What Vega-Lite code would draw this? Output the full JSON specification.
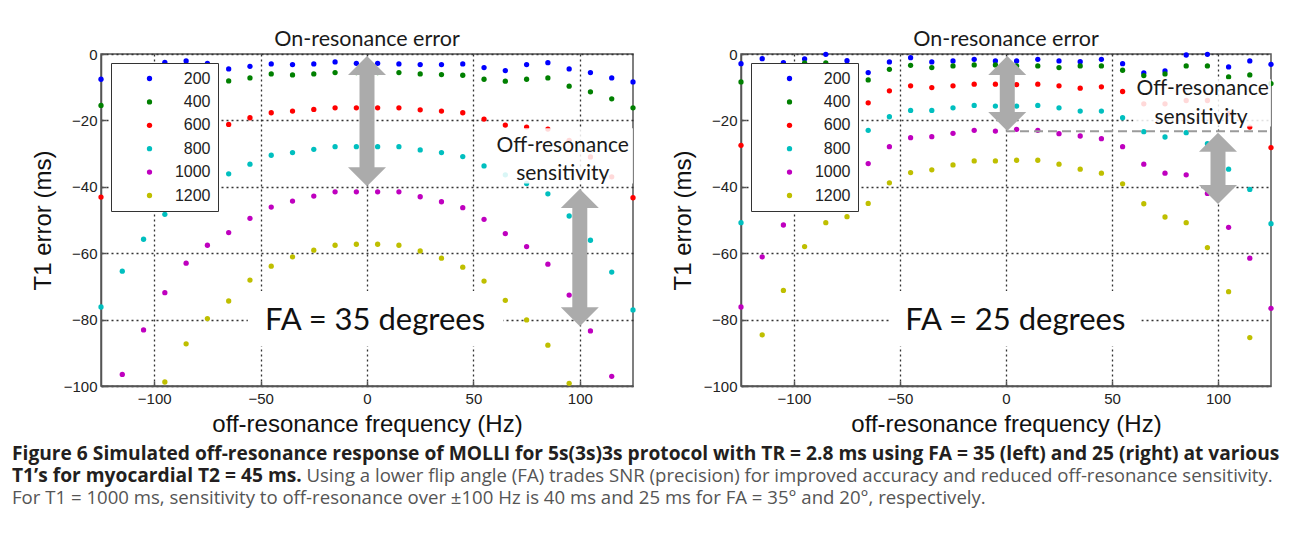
{
  "$schema": "https://vega.github.io/schema/vega-lite/v6.json",
  "background": "white",
  "padding": {"left": 12, "top": 27, "right": 5, "bottom": 5},
  "datasets": {
    "pts": [
      {"p":"L","t":200,"f":-125,"e":-7.6},{"p":"L","t":200,"f":-115,"e":-5.0},{"p":"L","t":200,"f":-105,"e":-3.5},{"p":"L","t":200,"f":-95,"e":-2.5},{"p":"L","t":200,"f":-85,"e":-2.1},{"p":"L","t":200,"f":-75,"e":-2.8},{"p":"L","t":200,"f":-65,"e":-4.5},{"p":"L","t":200,"f":-55,"e":-3.7},{"p":"L","t":200,"f":-45,"e":-3.0},{"p":"L","t":200,"f":-35,"e":-3.2},{"p":"L","t":200,"f":-25,"e":-3.0},{"p":"L","t":200,"f":-15,"e":-2.4},{"p":"L","t":200,"f":-5,"e":-2.8},{"p":"L","t":200,"f":5,"e":-2.8},{"p":"L","t":200,"f":15,"e":-3.0},{"p":"L","t":200,"f":25,"e":-3.2},{"p":"L","t":200,"f":35,"e":-3.2},{"p":"L","t":200,"f":45,"e":-3.0},{"p":"L","t":200,"f":55,"e":-4.1},{"p":"L","t":200,"f":65,"e":-5.0},{"p":"L","t":200,"f":75,"e":-3.2},{"p":"L","t":200,"f":85,"e":-2.6},{"p":"L","t":200,"f":95,"e":-4.5},{"p":"L","t":200,"f":105,"e":-5.6},{"p":"L","t":200,"f":115,"e":-7.2},{"p":"L","t":200,"f":125,"e":-8.4},
      {"p":"L","t":400,"f":-125,"e":-15.5},{"p":"L","t":400,"f":-115,"e":-12.0},{"p":"L","t":400,"f":-105,"e":-9.5},{"p":"L","t":400,"f":-95,"e":-8.0},{"p":"L","t":400,"f":-85,"e":-7.5},{"p":"L","t":400,"f":-75,"e":-8.5},{"p":"L","t":400,"f":-65,"e":-8.1},{"p":"L","t":400,"f":-55,"e":-7.2},{"p":"L","t":400,"f":-45,"e":-6.0},{"p":"L","t":400,"f":-35,"e":-6.3},{"p":"L","t":400,"f":-25,"e":-6.0},{"p":"L","t":400,"f":-15,"e":-5.6},{"p":"L","t":400,"f":-5,"e":-5.6},{"p":"L","t":400,"f":5,"e":-5.6},{"p":"L","t":400,"f":15,"e":-5.6},{"p":"L","t":400,"f":25,"e":-6.0},{"p":"L","t":400,"f":35,"e":-6.2},{"p":"L","t":400,"f":45,"e":-6.4},{"p":"L","t":400,"f":55,"e":-7.6},{"p":"L","t":400,"f":65,"e":-8.2},{"p":"L","t":400,"f":75,"e":-7.6},{"p":"L","t":400,"f":85,"e":-7.2},{"p":"L","t":400,"f":95,"e":-9.7},{"p":"L","t":400,"f":105,"e":-11.4},{"p":"L","t":400,"f":115,"e":-13.5},{"p":"L","t":400,"f":125,"e":-16.2},
      {"p":"L","t":600,"f":-125,"e":-43.1},{"p":"L","t":600,"f":-115,"e":-37.0},{"p":"L","t":600,"f":-105,"e":-31.0},{"p":"L","t":600,"f":-95,"e":-26.0},{"p":"L","t":600,"f":-85,"e":-23.0},{"p":"L","t":600,"f":-75,"e":-22.0},{"p":"L","t":600,"f":-65,"e":-21.2},{"p":"L","t":600,"f":-55,"e":-19.2},{"p":"L","t":600,"f":-45,"e":-17.7},{"p":"L","t":600,"f":-35,"e":-17.2},{"p":"L","t":600,"f":-25,"e":-16.7},{"p":"L","t":600,"f":-15,"e":-16.2},{"p":"L","t":600,"f":-5,"e":-16.2},{"p":"L","t":600,"f":5,"e":-16.2},{"p":"L","t":600,"f":15,"e":-16.2},{"p":"L","t":600,"f":25,"e":-16.8},{"p":"L","t":600,"f":35,"e":-17.2},{"p":"L","t":600,"f":45,"e":-17.7},{"p":"L","t":600,"f":55,"e":-19.6},{"p":"L","t":600,"f":65,"e":-21.4},{"p":"L","t":600,"f":75,"e":-22.0},{"p":"L","t":600,"f":85,"e":-22.6},{"p":"L","t":600,"f":95,"e":-26.0},{"p":"L","t":600,"f":105,"e":-31.0},{"p":"L","t":600,"f":115,"e":-37.0},{"p":"L","t":600,"f":125,"e":-43.3},
      {"p":"L","t":800,"f":-125,"e":-76.2},{"p":"L","t":800,"f":-115,"e":-65.4},{"p":"L","t":800,"f":-105,"e":-55.8},{"p":"L","t":800,"f":-95,"e":-48.3},{"p":"L","t":800,"f":-85,"e":-42.0},{"p":"L","t":800,"f":-75,"e":-39.0},{"p":"L","t":800,"f":-65,"e":-36.1},{"p":"L","t":800,"f":-55,"e":-33.2},{"p":"L","t":800,"f":-45,"e":-30.5},{"p":"L","t":800,"f":-35,"e":-29.7},{"p":"L","t":800,"f":-25,"e":-28.7},{"p":"L","t":800,"f":-15,"e":-27.9},{"p":"L","t":800,"f":-5,"e":-27.9},{"p":"L","t":800,"f":5,"e":-27.9},{"p":"L","t":800,"f":15,"e":-27.9},{"p":"L","t":800,"f":25,"e":-28.9},{"p":"L","t":800,"f":35,"e":-29.7},{"p":"L","t":800,"f":45,"e":-30.9},{"p":"L","t":800,"f":55,"e":-33.7},{"p":"L","t":800,"f":65,"e":-36.4},{"p":"L","t":800,"f":75,"e":-39.0},{"p":"L","t":800,"f":85,"e":-42.1},{"p":"L","t":800,"f":95,"e":-48.8},{"p":"L","t":800,"f":105,"e":-56.1},{"p":"L","t":800,"f":115,"e":-65.7},{"p":"L","t":800,"f":125,"e":-77.1},
      {"p":"L","t":1000,"f":-115,"e":-96.5},{"p":"L","t":1000,"f":-105,"e":-83.1},{"p":"L","t":1000,"f":-95,"e":-71.9},{"p":"L","t":1000,"f":-85,"e":-63.0},{"p":"L","t":1000,"f":-75,"e":-57.6},{"p":"L","t":1000,"f":-65,"e":-53.8},{"p":"L","t":1000,"f":-55,"e":-49.5},{"p":"L","t":1000,"f":-45,"e":-46.1},{"p":"L","t":1000,"f":-35,"e":-44.3},{"p":"L","t":1000,"f":-25,"e":-42.8},{"p":"L","t":1000,"f":-15,"e":-41.5},{"p":"L","t":1000,"f":-5,"e":-41.5},{"p":"L","t":1000,"f":5,"e":-41.5},{"p":"L","t":1000,"f":15,"e":-41.5},{"p":"L","t":1000,"f":25,"e":-43.0},{"p":"L","t":1000,"f":35,"e":-44.5},{"p":"L","t":1000,"f":45,"e":-46.3},{"p":"L","t":1000,"f":55,"e":-49.8},{"p":"L","t":1000,"f":65,"e":-54.1},{"p":"L","t":1000,"f":75,"e":-58.0},{"p":"L","t":1000,"f":85,"e":-63.3},{"p":"L","t":1000,"f":95,"e":-72.6},{"p":"L","t":1000,"f":105,"e":-83.4},{"p":"L","t":1000,"f":115,"e":-97.1},
      {"p":"L","t":1200,"f":-95,"e":-98.8},{"p":"L","t":1200,"f":-85,"e":-87.3},{"p":"L","t":1200,"f":-75,"e":-79.7},{"p":"L","t":1200,"f":-65,"e":-74.4},{"p":"L","t":1200,"f":-55,"e":-68.1},{"p":"L","t":1200,"f":-45,"e":-63.9},{"p":"L","t":1200,"f":-35,"e":-61.1},{"p":"L","t":1200,"f":-25,"e":-59.1},{"p":"L","t":1200,"f":-15,"e":-57.6},{"p":"L","t":1200,"f":-5,"e":-57.3},{"p":"L","t":1200,"f":5,"e":-57.3},{"p":"L","t":1200,"f":15,"e":-57.6},{"p":"L","t":1200,"f":25,"e":-59.3},{"p":"L","t":1200,"f":35,"e":-61.5},{"p":"L","t":1200,"f":45,"e":-64.2},{"p":"L","t":1200,"f":55,"e":-68.4},{"p":"L","t":1200,"f":65,"e":-74.2},{"p":"L","t":1200,"f":75,"e":-80.1},{"p":"L","t":1200,"f":85,"e":-87.7},{"p":"L","t":1200,"f":95,"e":-99.2},
      {"p":"R","t":200,"f":-125,"e":-2.9},{"p":"R","t":200,"f":-115,"e":-1.4},{"p":"R","t":200,"f":-105,"e":-2.6},{"p":"R","t":200,"f":-95,"e":-1.5},{"p":"R","t":200,"f":-85,"e":-0.1},{"p":"R","t":200,"f":-75,"e":-2.0},{"p":"R","t":200,"f":-65,"e":-5.6},{"p":"R","t":200,"f":-55,"e":-2.4},{"p":"R","t":200,"f":-45,"e":-1.1},{"p":"R","t":200,"f":-35,"e":-2.4},{"p":"R","t":200,"f":-25,"e":-2.1},{"p":"R","t":200,"f":-15,"e":-1.6},{"p":"R","t":200,"f":-5,"e":-2.1},{"p":"R","t":200,"f":5,"e":-2.1},{"p":"R","t":200,"f":15,"e":-1.6},{"p":"R","t":200,"f":25,"e":-2.1},{"p":"R","t":200,"f":35,"e":-2.3},{"p":"R","t":200,"f":45,"e":-1.6},{"p":"R","t":200,"f":55,"e":-2.9},{"p":"R","t":200,"f":65,"e":-5.7},{"p":"R","t":200,"f":75,"e":-5.1},{"p":"R","t":200,"f":85,"e":-0.3},{"p":"R","t":200,"f":95,"e":-0.1},{"p":"R","t":200,"f":105,"e":-3.9},{"p":"R","t":200,"f":115,"e":-2.1},{"p":"R","t":200,"f":125,"e":-3.1},
      {"p":"R","t":400,"f":-125,"e":-8.4},{"p":"R","t":400,"f":-115,"e":-5.0},{"p":"R","t":400,"f":-105,"e":-3.5},{"p":"R","t":400,"f":-95,"e":-2.7},{"p":"R","t":400,"f":-85,"e":-2.7},{"p":"R","t":400,"f":-75,"e":-4.0},{"p":"R","t":400,"f":-65,"e":-7.8},{"p":"R","t":400,"f":-55,"e":-4.6},{"p":"R","t":400,"f":-45,"e":-3.4},{"p":"R","t":400,"f":-35,"e":-4.1},{"p":"R","t":400,"f":-25,"e":-3.6},{"p":"R","t":400,"f":-15,"e":-3.3},{"p":"R","t":400,"f":-5,"e":-3.3},{"p":"R","t":400,"f":5,"e":-3.6},{"p":"R","t":400,"f":15,"e":-3.6},{"p":"R","t":400,"f":25,"e":-4.1},{"p":"R","t":400,"f":35,"e":-3.6},{"p":"R","t":400,"f":45,"e":-3.6},{"p":"R","t":400,"f":55,"e":-4.9},{"p":"R","t":400,"f":65,"e":-6.5},{"p":"R","t":400,"f":75,"e":-6.0},{"p":"R","t":400,"f":85,"e":-3.6},{"p":"R","t":400,"f":95,"e":-3.6},{"p":"R","t":400,"f":105,"e":-6.9},{"p":"R","t":400,"f":115,"e":-6.3},{"p":"R","t":400,"f":125,"e":-8.9},
      {"p":"R","t":600,"f":-125,"e":-27.5},{"p":"R","t":600,"f":-115,"e":-22.0},{"p":"R","t":600,"f":-105,"e":-18.0},{"p":"R","t":600,"f":-95,"e":-16.0},{"p":"R","t":600,"f":-85,"e":-15.0},{"p":"R","t":600,"f":-75,"e":-15.0},{"p":"R","t":600,"f":-65,"e":-14.7},{"p":"R","t":600,"f":-55,"e":-11.1},{"p":"R","t":600,"f":-45,"e":-9.6},{"p":"R","t":600,"f":-35,"e":-10.1},{"p":"R","t":600,"f":-25,"e":-9.6},{"p":"R","t":600,"f":-15,"e":-9.1},{"p":"R","t":600,"f":-5,"e":-9.1},{"p":"R","t":600,"f":5,"e":-9.2},{"p":"R","t":600,"f":15,"e":-9.1},{"p":"R","t":600,"f":25,"e":-9.6},{"p":"R","t":600,"f":35,"e":-10.3},{"p":"R","t":600,"f":45,"e":-9.9},{"p":"R","t":600,"f":55,"e":-11.3},{"p":"R","t":600,"f":65,"e":-15.0},{"p":"R","t":600,"f":75,"e":-15.0},{"p":"R","t":600,"f":85,"e":-14.0},{"p":"R","t":600,"f":95,"e":-14.0},{"p":"R","t":600,"f":105,"e":-18.0},{"p":"R","t":600,"f":115,"e":-22.0},{"p":"R","t":600,"f":125,"e":-28.2},
      {"p":"R","t":800,"f":-125,"e":-50.8},{"p":"R","t":800,"f":-115,"e":-41.0},{"p":"R","t":800,"f":-105,"e":-35.0},{"p":"R","t":800,"f":-95,"e":-27.0},{"p":"R","t":800,"f":-85,"e":-24.0},{"p":"R","t":800,"f":-75,"e":-25.0},{"p":"R","t":800,"f":-65,"e":-23.0},{"p":"R","t":800,"f":-55,"e":-18.9},{"p":"R","t":800,"f":-45,"e":-17.0},{"p":"R","t":800,"f":-35,"e":-17.0},{"p":"R","t":800,"f":-25,"e":-16.2},{"p":"R","t":800,"f":-15,"e":-15.5},{"p":"R","t":800,"f":-5,"e":-15.7},{"p":"R","t":800,"f":5,"e":-15.7},{"p":"R","t":800,"f":15,"e":-15.5},{"p":"R","t":800,"f":25,"e":-16.2},{"p":"R","t":800,"f":35,"e":-17.2},{"p":"R","t":800,"f":45,"e":-17.2},{"p":"R","t":800,"f":55,"e":-19.2},{"p":"R","t":800,"f":65,"e":-23.4},{"p":"R","t":800,"f":75,"e":-25.0},{"p":"R","t":800,"f":85,"e":-23.7},{"p":"R","t":800,"f":95,"e":-27.0},{"p":"R","t":800,"f":105,"e":-34.7},{"p":"R","t":800,"f":115,"e":-40.8},{"p":"R","t":800,"f":125,"e":-51.1},
      {"p":"R","t":1000,"f":-125,"e":-76.2},{"p":"R","t":1000,"f":-115,"e":-61.1},{"p":"R","t":1000,"f":-105,"e":-51.5},{"p":"R","t":1000,"f":-95,"e":-42.0},{"p":"R","t":1000,"f":-85,"e":-37.0},{"p":"R","t":1000,"f":-75,"e":-36.0},{"p":"R","t":1000,"f":-65,"e":-33.0},{"p":"R","t":1000,"f":-55,"e":-27.9},{"p":"R","t":1000,"f":-45,"e":-25.2},{"p":"R","t":1000,"f":-35,"e":-24.9},{"p":"R","t":1000,"f":-25,"e":-23.9},{"p":"R","t":1000,"f":-15,"e":-23.0},{"p":"R","t":1000,"f":-5,"e":-23.2},{"p":"R","t":1000,"f":5,"e":-22.7},{"p":"R","t":1000,"f":15,"e":-23.0},{"p":"R","t":1000,"f":25,"e":-24.0},{"p":"R","t":1000,"f":35,"e":-24.7},{"p":"R","t":1000,"f":45,"e":-25.5},{"p":"R","t":1000,"f":55,"e":-27.9},{"p":"R","t":1000,"f":65,"e":-33.2},{"p":"R","t":1000,"f":75,"e":-35.9},{"p":"R","t":1000,"f":85,"e":-36.4},{"p":"R","t":1000,"f":95,"e":-42.0},{"p":"R","t":1000,"f":105,"e":-52.2},{"p":"R","t":1000,"f":115,"e":-61.5},{"p":"R","t":1000,"f":125,"e":-76.6},
      {"p":"R","t":1200,"f":-115,"e":-84.6},{"p":"R","t":1200,"f":-105,"e":-71.2},{"p":"R","t":1200,"f":-95,"e":-58.0},{"p":"R","t":1200,"f":-85,"e":-50.8},{"p":"R","t":1200,"f":-75,"e":-49.0},{"p":"R","t":1200,"f":-65,"e":-45.0},{"p":"R","t":1200,"f":-55,"e":-38.8},{"p":"R","t":1200,"f":-45,"e":-35.7},{"p":"R","t":1200,"f":-35,"e":-34.9},{"p":"R","t":1200,"f":-25,"e":-33.4},{"p":"R","t":1200,"f":-15,"e":-32.2},{"p":"R","t":1200,"f":-5,"e":-32.2},{"p":"R","t":1200,"f":5,"e":-32.0},{"p":"R","t":1200,"f":15,"e":-32.0},{"p":"R","t":1200,"f":25,"e":-33.2},{"p":"R","t":1200,"f":35,"e":-34.7},{"p":"R","t":1200,"f":45,"e":-35.9},{"p":"R","t":1200,"f":55,"e":-39.1},{"p":"R","t":1200,"f":65,"e":-45.1},{"p":"R","t":1200,"f":75,"e":-49.1},{"p":"R","t":1200,"f":85,"e":-50.8},{"p":"R","t":1200,"f":95,"e":-58.3},{"p":"R","t":1200,"f":105,"e":-71.6},{"p":"R","t":1200,"f":115,"e":-85.4}
    ],
    "fabg": [
      {"p":"L","x1":-56,"x2":64,"y1":-71.4,"y2":-88},
      {"p":"R","x1":-54.7,"x2":63.8,"y1":-71.4,"y2":-88}
    ],
    "offbg": [
      {"p":"L","x1":59,"x2":125,"y1":-22.4,"y2":-39},
      {"p":"R","x1":60,"x2":125,"y1":-7.6,"y2":-21.8}
    ],
    "dash": [
      {"p":"R","x1":0,"x2":125,"y":-23.3}
    ],
    "shafts": [
      {"p":"L","x":0,"y1":-5.4,"y2":-34.9},
      {"p":"L","x":100,"y1":-45.5,"y2":-77.2},
      {"p":"R","x":0.6,"y1":-5.4,"y2":-18.3},
      {"p":"R","x":100,"y1":-28.5,"y2":-40.4}
    ],
    "heads": [
      {"p":"L","x":0,"y":-0.6,"d":"up"},{"p":"L","x":0,"y":-39.8,"d":"down"},
      {"p":"L","x":100,"y":-40.7,"d":"up"},{"p":"L","x":100,"y":-82,"d":"down"},
      {"p":"R","x":0.6,"y":-0.6,"d":"up"},{"p":"R","x":0.6,"y":-23.2,"d":"down"},
      {"p":"R","x":100,"y":-23.7,"d":"up"},{"p":"R","x":100,"y":-45.2,"d":"down"}
    ],
    "notes": [
      {"p":"L","x":92,"y":-27.7,"t":"Off-resonance","k":"off"},
      {"p":"L","x":92,"y":-36.1,"t":"sensitivity","k":"off"},
      {"p":"L","x":3.8,"y":-80.4,"t":"FA = 35 degrees","k":"fa"},
      {"p":"R","x":92.8,"y":-10.5,"t":"Off-resonance","k":"off"},
      {"p":"R","x":92,"y":-19.3,"t":"sensitivity","k":"off"},
      {"p":"R","x":4.4,"y":-80.4,"t":"FA = 25 degrees","k":"fa"}
    ]
  },
  "title": {
    "text": [
      "Figure 6 Simulated off-resonance response of MOLLI for 5s(3s)3s protocol with TR = 2.8 ms using FA = 35 (left) and 25 (right) at various",
      "T1’s for myocardial T2 = 45 ms."
    ],
    "subtitle": [
      "\u200b\u2003\u2003\u2003\u2003\u2003\u2003\u2003\u2003\u2003\u2003\u2003\u2003\u2003\u2003\u2003\u2002\u2004Using a lower flip angle (FA) trades SNR (precision) for improved accuracy and reduced off-resonance sensitivity.",
      "For T1 = 1000 ms, sensitivity to off-resonance over ±100 Hz is 40 ms and 25 ms for FA = 35° and 20°, respectively."
    ],
    "orient": "bottom",
    "anchor": "start",
    "frame": "group",
    "dx": -89,
    "offset": 8,
    "font": "Open Sans",
    "fontSize": 19.2,
    "fontWeight": "bold",
    "color": "#231f20",
    "lineHeight": 22,
    "subtitleFont": "Open Sans",
    "subtitleFontSize": 18.6,
    "subtitleFontWeight": "normal",
    "subtitleColor": "#555555",
    "subtitleLineHeight": 22,
    "subtitlePadding": -18.6
  },
  "spacing": 33,
  "resolve": {"legend": {"color": "independent"}},
  "hconcat": [
    {
      "width": 532,
      "height": 332,
      "title": {"text": "On-resonance error"},
      "layer": [
        {
          "data": {"name": "fabg"},
          "transform": [{"filter": "datum.p == 'L'"}],
          "mark": {"type": "rect", "color": "white"},
          "encoding": {
            "x": {"field": "x1", "type": "quantitative"},
            "x2": {"field": "x2"},
            "y": {"field": "y1", "type": "quantitative"},
            "y2": {"field": "y2"}
          }
        },
        {
          "data": {"name": "pts"},
          "transform": [{"filter": "datum.p == 'L'"}],
          "mark": {"type": "circle", "size": 28, "opacity": 1},
          "encoding": {
            "x": {"field": "f", "type": "quantitative", "scale": {"domain": [-125, 125], "nice": false},
                  "axis": {"values": [-100, -50, 0, 50, 100], "title": "off-resonance frequency (Hz)"}},
            "y": {"field": "e", "type": "quantitative", "scale": {"domain": [-100, 0], "nice": false},
                  "axis": {"values": [-100, -80, -60, -40, -20, 0], "title": "T1 error (ms)"}},
            "color": {"field": "t", "type": "ordinal",
                      "scale": {"domain": [200, 400, 600, 800, 1000, 1200], "range": ["#0000ff", "#008000", "#ff0000", "#00bfbf", "#bf00bf", "#bfbf00"]},
                      "legend": {"orient": "none", "legendX": 10, "legendY": 9}}
          }
        },
        {
          "data": {"name": "offbg"},
          "transform": [{"filter": "datum.p == 'L'"}],
          "mark": {"type": "rect", "color": "white", "opacity": 0.85},
          "encoding": {
            "x": {"field": "x1", "type": "quantitative"},
            "x2": {"field": "x2"},
            "y": {"field": "y1", "type": "quantitative"},
            "y2": {"field": "y2"}
          }
        },
        {
          "data": {"name": "shafts"},
          "transform": [{"filter": "datum.p == 'L'"}],
          "mark": {"type": "rule", "color": "#ababab", "strokeWidth": 15},
          "encoding": {
            "x": {"field": "x", "type": "quantitative"},
            "y": {"field": "y1", "type": "quantitative"},
            "y2": {"field": "y2"}
          }
        },
        {
          "data": {"name": "heads"},
          "transform": [{"filter": "datum.p == 'L' && datum.d == 'up'"}],
          "mark": {"type": "point", "shape": "M0,0L-1,1L1,1Z", "filled": true, "size": 1444, "color": "#ababab", "opacity": 1, "strokeWidth": 0},
          "encoding": {
            "x": {"field": "x", "type": "quantitative"},
            "y": {"field": "y", "type": "quantitative"}
          }
        },
        {
          "data": {"name": "heads"},
          "transform": [{"filter": "datum.p == 'L' && datum.d == 'down'"}],
          "mark": {"type": "point", "shape": "M0,0L-1,-1L1,-1Z", "filled": true, "size": 1444, "color": "#ababab", "opacity": 1, "strokeWidth": 0},
          "encoding": {
            "x": {"field": "x", "type": "quantitative"},
            "y": {"field": "y", "type": "quantitative"}
          }
        },
        {
          "data": {"name": "notes"},
          "transform": [{"filter": "datum.p == 'L' && datum.k == 'off'"}],
          "mark": {"type": "text", "font": "Lato", "fontSize": 21, "color": "#1a1a1a", "baseline": "middle", "align": "center"},
          "encoding": {
            "x": {"field": "x", "type": "quantitative"},
            "y": {"field": "y", "type": "quantitative"},
            "text": {"field": "t"}
          }
        },
        {
          "data": {"name": "notes"},
          "transform": [{"filter": "datum.p == 'L' && datum.k == 'fa'"}],
          "mark": {"type": "text", "font": "Lato", "fontSize": 31, "color": "#111111", "baseline": "middle", "align": "center"},
          "encoding": {
            "x": {"field": "x", "type": "quantitative"},
            "y": {"field": "y", "type": "quantitative"},
            "text": {"field": "t"}
          }
        }
      ]
    },
    {
      "width": 530,
      "height": 332,
      "title": {"text": "On-resonance error"},
      "layer": [
        {
          "data": {"name": "fabg"},
          "transform": [{"filter": "datum.p == 'R'"}],
          "mark": {"type": "rect", "color": "white"},
          "encoding": {
            "x": {"field": "x1", "type": "quantitative"},
            "x2": {"field": "x2"},
            "y": {"field": "y1", "type": "quantitative"},
            "y2": {"field": "y2"}
          }
        },
        {
          "data": {"name": "pts"},
          "transform": [{"filter": "datum.p == 'R'"}],
          "mark": {"type": "circle", "size": 28, "opacity": 1},
          "encoding": {
            "x": {"field": "f", "type": "quantitative", "scale": {"domain": [-125, 125], "nice": false},
                  "axis": {"values": [-100, -50, 0, 50, 100], "title": "off-resonance frequency (Hz)"}},
            "y": {"field": "e", "type": "quantitative", "scale": {"domain": [-100, 0], "nice": false},
                  "axis": {"values": [-100, -80, -60, -40, -20, 0], "title": "T1 error (ms)"}},
            "color": {"field": "t", "type": "ordinal",
                      "scale": {"domain": [200, 400, 600, 800, 1000, 1200], "range": ["#0000ff", "#008000", "#ff0000", "#00bfbf", "#bf00bf", "#bfbf00"]},
                      "legend": {"orient": "none", "legendX": 10, "legendY": 9}}
          }
        },
        {
          "data": {"name": "offbg"},
          "transform": [{"filter": "datum.p == 'R'"}],
          "mark": {"type": "rect", "color": "white", "opacity": 0.85},
          "encoding": {
            "x": {"field": "x1", "type": "quantitative"},
            "x2": {"field": "x2"},
            "y": {"field": "y1", "type": "quantitative"},
            "y2": {"field": "y2"}
          }
        },
        {
          "data": {"name": "dash"},
          "mark": {"type": "rule", "color": "#9a9a9a", "strokeWidth": 2, "strokeDash": [9, 5]},
          "encoding": {
            "x": {"field": "x1", "type": "quantitative"},
            "x2": {"field": "x2"},
            "y": {"field": "y", "type": "quantitative"}
          }
        },
        {
          "data": {"name": "shafts"},
          "transform": [{"filter": "datum.p == 'R'"}],
          "mark": {"type": "rule", "color": "#ababab", "strokeWidth": 15},
          "encoding": {
            "x": {"field": "x", "type": "quantitative"},
            "y": {"field": "y1", "type": "quantitative"},
            "y2": {"field": "y2"}
          }
        },
        {
          "data": {"name": "heads"},
          "transform": [{"filter": "datum.p == 'R' && datum.d == 'up'"}],
          "mark": {"type": "point", "shape": "M0,0L-1,1L1,1Z", "filled": true, "size": 1444, "color": "#ababab", "opacity": 1, "strokeWidth": 0},
          "encoding": {
            "x": {"field": "x", "type": "quantitative"},
            "y": {"field": "y", "type": "quantitative"}
          }
        },
        {
          "data": {"name": "heads"},
          "transform": [{"filter": "datum.p == 'R' && datum.d == 'down'"}],
          "mark": {"type": "point", "shape": "M0,0L-1,-1L1,-1Z", "filled": true, "size": 1444, "color": "#ababab", "opacity": 1, "strokeWidth": 0},
          "encoding": {
            "x": {"field": "x", "type": "quantitative"},
            "y": {"field": "y", "type": "quantitative"}
          }
        },
        {
          "data": {"name": "notes"},
          "transform": [{"filter": "datum.p == 'R' && datum.k == 'off'"}],
          "mark": {"type": "text", "font": "Lato", "fontSize": 21, "color": "#1a1a1a", "baseline": "middle", "align": "center"},
          "encoding": {
            "x": {"field": "x", "type": "quantitative"},
            "y": {"field": "y", "type": "quantitative"},
            "text": {"field": "t"}
          }
        },
        {
          "data": {"name": "notes"},
          "transform": [{"filter": "datum.p == 'R' && datum.k == 'fa'"}],
          "mark": {"type": "text", "font": "Lato", "fontSize": 31, "color": "#111111", "baseline": "middle", "align": "center"},
          "encoding": {
            "x": {"field": "x", "type": "quantitative"},
            "y": {"field": "y", "type": "quantitative"},
            "text": {"field": "t"}
          }
        }
      ]
    }
  ],
  "config": {
    "view": {"stroke": "#555555", "strokeWidth": 1.5},
    "axis": {
      "domainColor": "#555555",
      "domainWidth": 1.5,
      "grid": true,
      "gridColor": "#333333",
      "gridDash": [2, 3],
      "gridWidth": 1.3,
      "gridOpacity": 1,
      "ticks": true,
      "tickSize": -5,
      "tickColor": "#555555",
      "tickWidth": 1.5,
      "labelFont": "Liberation Sans",
      "labelFontSize": 15,
      "labelColor": "#222222",
      "titleFont": "Liberation Sans",
      "titleFontSize": 24,
      "titleFontWeight": "normal",
      "titleColor": "#111111"
    },
    "axisX": {"labelPadding": 10, "titlePadding": 6},
    "axisY": {"labelPadding": 9, "titlePadding": 8},
    "legend": {
      "title": null,
      "fillColor": "white",
      "strokeColor": "#333333",
      "padding": 7.5,
      "rowPadding": 7.4,
      "symbolOffset": 23,
      "symbolSize": 28,
      "symbolType": "circle",
      "symbolStrokeWidth": 0,
      "labelFont": "Liberation Sans",
      "labelFontSize": 16,
      "labelColor": "#222222",
      "labelAlign": "right",
      "labelOffset": 53
    },
    "title": {
      "font": "Lato",
      "fontSize": 21.5,
      "fontWeight": "normal",
      "color": "#1a1a1a",
      "offset": -3
    }
  }
}
